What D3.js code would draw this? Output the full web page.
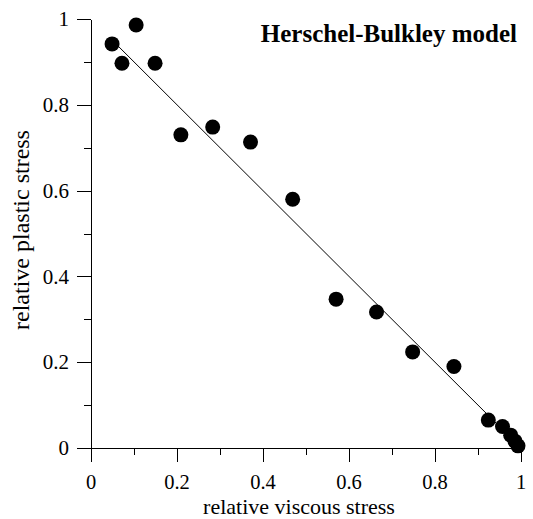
<!DOCTYPE html>
<html>
<head>
<meta charset="utf-8">
<script src="https://cdn.jsdelivr.net/npm/d3@7"></script>
<style>
  html, body { margin: 0; padding: 0; background: #fff; }
  svg { display: block; }
  .axis path, .axis line { stroke: #000; stroke-width: 1; shape-rendering: crispEdges; }
  text.lbl { font-family: "Liberation Serif", "Times New Roman", serif; fill: #000; }
</style>
</head>
<body>
<svg id="chart" width="533" height="519"></svg>
<script>
// Measured stresses (normalised)
const viscous = [0.049, 0.072, 0.105, 0.149, 0.209, 0.283, 0.371, 0.469, 0.570, 0.664, 0.748, 0.844, 0.924, 0.957, 0.976, 0.986, 0.993];
const plastic = [0.942, 0.897, 0.986, 0.897, 0.730, 0.748, 0.713, 0.580, 0.347, 0.317, 0.224, 0.190, 0.065, 0.050, 0.030, 0.016, 0.005];

// Fitted line
const fitX = [0.049, 1.0];
const fitY = [0.951, 0.0];

const majorTicks = [0, 0.2, 0.4, 0.6, 0.8, 1];
const minorTicks = [0.1, 0.3, 0.5, 0.7, 0.9];
const tickLabels = ["0", "0.2", "0.4", "0.6", "0.8", "1"];

const xTitle = "relative viscous stress";
const yTitle = "relative plastic stress";
const chartTitle = "Herschel-Bulkley model";

const margin = { left: 91, top: 19 };
const w = 430, h = 429;

const svg = d3.select("#chart");
const g = svg.append("g").attr("transform", `translate(${margin.left},${margin.top})`);

const x = d3.scaleLinear().domain([0, 1]).range([0, w]);
const y = d3.scaleLinear().domain([0, 1]).range([h, 0]);

// x axis: major + minor ticks
g.append("g").attr("class", "axis")
  .attr("transform", `translate(0,${h})`)
  .call(d3.axisBottom(x).tickValues(majorTicks).tickFormat("").tickSize(14).tickSizeOuter(0));
g.append("g").attr("class", "axis")
  .attr("transform", `translate(0,${h})`)
  .call(d3.axisBottom(x).tickValues(minorTicks).tickFormat("").tickSize(7).tickSizeOuter(0))
  .select(".domain").remove();

// y axis: major + minor ticks
g.append("g").attr("class", "axis")
  .call(d3.axisLeft(y).tickValues(majorTicks).tickFormat("").tickSize(14).tickSizeOuter(0));
g.append("g").attr("class", "axis")
  .call(d3.axisLeft(y).tickValues(minorTicks).tickFormat("").tickSize(7).tickSizeOuter(0))
  .select(".domain").remove();

// tick labels
g.append("g").selectAll("text")
  .data(majorTicks)
  .join("text")
  .attr("class", "lbl")
  .attr("x", d => x(d))
  .attr("y", h + 41)
  .attr("text-anchor", "middle")
  .style("font-size", "20.5px")
  .text((d, i) => tickLabels[i]);

g.append("g").selectAll("text")
  .data(majorTicks)
  .join("text")
  .attr("class", "lbl")
  .attr("x", -22)
  .attr("y", d => y(d))
  .attr("dy", "0.34em")
  .attr("text-anchor", "end")
  .style("font-size", "21px")
  .text((d, i) => tickLabels[i]);

// fitted line
g.append("path")
  .datum(fitX.map((d, i) => [d, fitY[i]]))
  .attr("fill", "none")
  .attr("stroke", "#000")
  .attr("stroke-width", 1)
  .attr("d", d3.line().x(d => x(d[0])).y(d => y(d[1])));

// data points
g.selectAll("circle.pt")
  .data(viscous.map((d, i) => [d, plastic[i]]))
  .join("circle")
  .attr("class", "pt")
  .attr("cx", d => x(d[0]))
  .attr("cy", d => y(d[1]))
  .attr("r", 7.5)
  .attr("fill", "#000");

// axis titles
svg.append("text")
  .attr("class", "lbl")
  .attr("x", 299).attr("y", 514)
  .attr("text-anchor", "middle")
  .style("font-size", "22px")
  .text(xTitle);

svg.append("text")
  .attr("class", "lbl")
  .attr("transform", "translate(29,230) rotate(-90)")
  .attr("text-anchor", "middle")
  .style("font-size", "24px")
  .text(yTitle);

// chart title
svg.append("text")
  .attr("class", "lbl")
  .attr("x", 517).attr("y", 42)
  .attr("text-anchor", "end")
  .style("font-size", "25px")
  .style("font-weight", "bold")
  .text(chartTitle);
</script>
</body>
</html>
